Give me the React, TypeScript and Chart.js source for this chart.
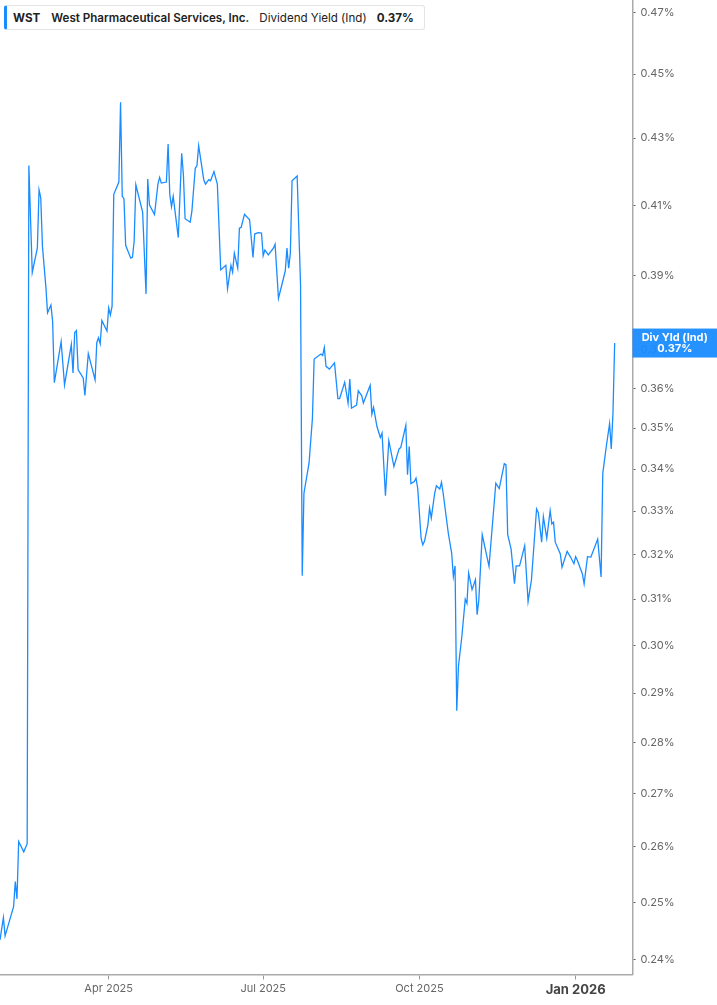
import React, { useEffect, useRef } from 'react';
import Chart from 'chart.js/auto';

// trading days, counted as days since 2025-01-01
const days = [
  26, 28, 29, 34, 35, 36, 37, 40, 42, 43, 45, 48, 49, 50, 51, 53, 54, 56, 57, 58,
  62, 64, 68, 69, 70, 71, 72, 75, 76, 78, 82, 83, 84, 85, 86, 89, 90, 91, 92, 93,
  96, 97, 98, 99, 100, 103, 104, 105, 106, 110, 112, 113, 114, 117, 119, 120, 121, 124, 125, 126,
  127, 128, 131, 133, 134, 135, 138, 139, 141, 142, 143, 146, 147, 149, 150, 152, 154, 156, 159, 160,
  162, 163, 164, 166, 167, 168, 170, 173, 175, 176, 178, 180, 181, 182, 184, 187, 188, 190, 192, 194,
  195, 196, 197, 198, 201, 203, 204, 205, 208, 210, 211, 215, 216, 217, 218, 220, 223, 225, 226, 229,
  231, 232, 233, 236, 237, 239, 240, 244, 245, 246, 248, 250, 251, 253, 255, 258, 261, 262, 265, 266,
  267, 268, 270, 271, 272, 274, 275, 276, 278, 279, 280, 282, 283, 285, 286, 287, 290, 292, 293, 294,
  295, 296, 298, 300, 301, 302, 304, 306, 307, 308, 310, 314, 318, 320, 323, 324, 325, 327, 329, 330,
  332, 335, 337, 339, 342, 343, 345, 346, 348, 350, 351, 352, 353, 356, 357, 360, 362, 364, 365, 366,
  369, 370, 372, 374, 378, 380, 381, 383, 385, 386, 387, 388,
];

// dividend yield (ind), in percent
const yields = [
  0.2434, 0.2473, 0.2441, 0.2492, 0.2537, 0.2506, 0.2610, 0.2591, 0.2606, 0.4217,
  0.3909, 0.3978, 0.4145, 0.4122, 0.3982, 0.3870, 0.3799, 0.3820, 0.3775, 0.3615,
  0.3722, 0.3609, 0.3714, 0.3640, 0.3746, 0.3751, 0.3648, 0.3627, 0.3582, 0.3690,
  0.3622, 0.3719, 0.3732, 0.3716, 0.3778, 0.3750, 0.3812, 0.3793, 0.3816, 0.4132,
  0.4168, 0.4411, 0.4126, 0.4119, 0.3985, 0.3949, 0.3951, 0.3996, 0.4160, 0.4080,
  0.3850, 0.4177, 0.4101, 0.4073, 0.4162, 0.4182, 0.4165, 0.4168, 0.4282, 0.4131,
  0.4096, 0.4126, 0.4007, 0.4254, 0.4190, 0.4061, 0.4051, 0.4082, 0.4209, 0.4217,
  0.4277, 0.4175, 0.4162, 0.4175, 0.4172, 0.4199, 0.4162, 0.3916, 0.3929, 0.3864,
  0.3929, 0.3910, 0.3963, 0.3921, 0.4034, 0.4036, 0.4074, 0.4058, 0.3951, 0.4017,
  0.4021, 0.4020, 0.3956, 0.3972, 0.3958, 0.3977, 0.3988, 0.3838, 0.3875, 0.3913,
  0.3977, 0.3921, 0.3963, 0.4172, 0.4186, 0.3875, 0.3152, 0.3342, 0.3414, 0.3525,
  0.3676, 0.3689, 0.3685, 0.3706, 0.3657, 0.3650, 0.3666, 0.3574, 0.3574, 0.3616,
  0.3563, 0.3624, 0.3550, 0.3558, 0.3594, 0.3582, 0.3563, 0.3608, 0.3535, 0.3552,
  0.3504, 0.3477, 0.3488, 0.3336, 0.3469, 0.3406, 0.3449, 0.3452, 0.3507, 0.3386,
  0.3455, 0.3365, 0.3370, 0.3378, 0.3354, 0.3237, 0.3222, 0.3230, 0.3268, 0.3307,
  0.3284, 0.3342, 0.3360, 0.3352, 0.3368, 0.3342, 0.3249, 0.3203, 0.3150, 0.3174,
  0.2864, 0.2956, 0.3019, 0.3100, 0.3091, 0.3158, 0.3121, 0.3143, 0.3066, 0.3099,
  0.3245, 0.3173, 0.3366, 0.3353, 0.3413, 0.3410, 0.3245, 0.3212, 0.3134, 0.3174,
  0.3174, 0.3220, 0.3095, 0.3143, 0.3305, 0.3297, 0.3228, 0.3287, 0.3237, 0.3301,
  0.3270, 0.3274, 0.3228, 0.3201, 0.3171, 0.3207, 0.3194, 0.3179, 0.3195, 0.3187,
  0.3156, 0.3134, 0.3195, 0.3194, 0.3235, 0.3149, 0.3390, 0.3453, 0.3511, 0.3449,
  0.3538, 0.3718,
];

const yTicks = [0.24, 0.25, 0.26, 0.27, 0.28, 0.29, 0.30, 0.31, 0.32, 0.33, 0.34, 0.35, 0.36, 0.37, 0.39, 0.41, 0.43, 0.45, 0.47];
const monthTicks = [90, 181, 273, 365];
const monthLabels = ['Apr 2025', 'Jul 2025', 'Oct 2025', 'Jan 2026'];

const LINE_BLUE = '#1a8cff';
const FONT = 'Inter, "DejaVu Sans", sans-serif';

const lastValueBox = {
  id: 'lastValueBox',
  afterDraw(chart: any) {
    const ys = chart.scales.y;
    const ctx = chart.ctx;
    const v = yields[yields.length - 1];
    const y = ys.getPixelForValue(v);
    ctx.save();
    ctx.fillStyle = 'rgba(26,140,255,0.95)';
    ctx.fillRect(ys.left, y - 14.5, chart.width - ys.left, 29);
    ctx.fillStyle = '#fff';
    ctx.font = `bold 11px ${FONT}`;
    ctx.textAlign = 'center';
    ctx.textBaseline = 'middle';
    const cx = ys.left + (chart.width - ys.left) / 2;
    ctx.fillText('Div Yld (Ind)', cx, y - 5.5);
    ctx.fillText(`${v.toFixed(2)}%`, cx, y + 6);
    ctx.restore();
  },
};

const YieldChart = () => {
  const chartRef = useRef<HTMLCanvasElement | null>(null);

  useEffect(() => {
    document.body.style.margin = '0';
    if (!chartRef.current) {
      return;
    }
    const ctx = chartRef.current.getContext('2d');
    if (!ctx) {
      return;
    }

    const chart = new Chart(ctx, {
      type: 'line',
      data: {
        datasets: [{
          label: 'Dividend Yield (Ind)',
          data: days.map((d, i) => ({ x: d, y: yields[i] })),
          borderColor: LINE_BLUE,
          borderWidth: 1.3,
          pointRadius: 0,
          tension: 0,
          fill: false,
        }],
      },
      options: {
        animation: false,
        responsive: true,
        maintainAspectRatio: false,
        layout: { padding: 0 },
        plugins: {
          legend: { display: false },
          tooltip: { enabled: false },
        },
        scales: {
          x: {
            type: 'linear',
            min: 26,
            max: 398.5,
            afterBuildTicks: (scale: any) => {
              scale.ticks = monthTicks.map(v => ({ value: v }));
            },
            afterFit: (scale: any) => {
              scale.height = 30.5;
              scale.paddingLeft = 0;
              scale.paddingRight = 0;
            },
            grid: { drawOnChartArea: false, drawTicks: true, tickLength: 5, tickColor: '#999' },
            border: { color: '#aaa', width: 1.5 },
            ticks: {
              autoSkip: false,
              maxRotation: 0,
              padding: 3,
              color: (c: any) => (c.tick && c.tick.value === 365 ? '#444' : '#666'),
              font: (c: any) => (c.tick && c.tick.value === 365
                ? { family: FONT, size: 13, weight: 'bold' }
                : { family: FONT, size: 11 }),
              callback: (v: any) => {
                const i = monthTicks.indexOf(Number(v));
                return i >= 0 ? monthLabels[i] : '';
              },
            },
          },
          y: {
            type: 'logarithmic',
            position: 'right',
            min: 0.2375,
            max: 0.4743,
            afterBuildTicks: (scale: any) => {
              scale.ticks = yTicks.map(v => ({ value: v }));
            },
            afterFit: (scale: any) => {
              scale.width = 84.5;
              scale.paddingTop = 0;
              scale.paddingBottom = 0;
            },
            grid: { drawOnChartArea: false, drawTicks: true, tickLength: 3, tickColor: '#555' },
            border: { color: '#aaa', width: 1.5 },
            ticks: {
              autoSkip: false,
              padding: 5,
              color: '#666',
              font: { family: FONT, size: 11 },
              callback: (v: any) => `${Number(v).toFixed(2)}%`,
            },
          },
        },
      },
      plugins: [lastValueBox],
    });

    return () => {
      chart.destroy();
    };
  }, []);

  return <canvas ref={chartRef} />;
};

const App = () => {
  const last = yields[yields.length - 1];
  return (
    <div style={{ position: 'relative', width: 717, height: 1005, background: '#fff' }}>
      <YieldChart />
      <div
        style={{
          position: 'absolute',
          left: 4,
          top: 5,
          width: 421,
          height: 25,
          boxSizing: 'border-box',
          border: '1px solid #e4e4e4',
          borderLeft: `3px solid ${LINE_BLUE}`,
          borderRadius: 3,
          background: '#fff',
          display: 'flex',
          alignItems: 'center',
          paddingLeft: 6,
          fontFamily: FONT,
          fontSize: 11.6,
          color: '#222',
          whiteSpace: 'nowrap',
        }}
      >
        <span style={{ fontWeight: 700, marginRight: 11 }}>WST</span>
        <span style={{ fontWeight: 600, marginRight: 10 }}>West Pharmaceutical Services, Inc.</span>
        <span style={{ fontWeight: 400, marginRight: 10 }}>Dividend Yield (Ind)</span>
        <span style={{ fontWeight: 700 }}>{`${last.toFixed(2)}%`}</span>
      </div>
    </div>
  );
};

export default App;
